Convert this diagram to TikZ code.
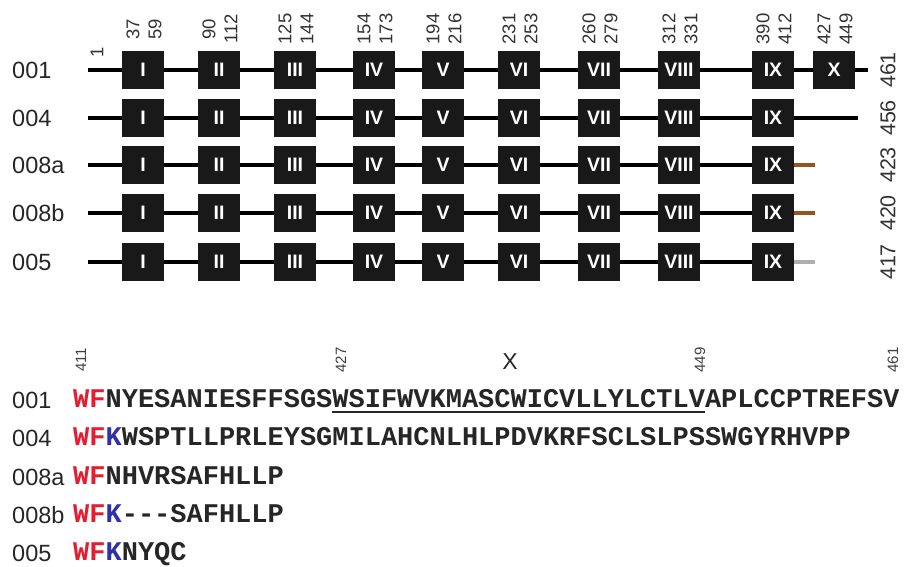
\documentclass[tikz,border=0pt]{standalone}
\usepackage{fontspec}
\setmainfont{Liberation Sans}
\setmonofont{Liberation Mono}
\usetikzlibrary{positioning}

\definecolor{seqred}{RGB}{228,30,48}
\definecolor{seqblue}{RGB}{48,48,168}
\definecolor{tailbrown}{RGB}{150,85,30}
\definecolor{tailgrey}{RGB}{175,175,175}

\begin{document}
\begin{tikzpicture}[
    x=1pt, y=-1pt,
    dombox/.style={fill=black!90, minimum width=42pt, minimum height=38pt, inner sep=0pt, text=white, font=\fontsize{19.5}{19.5}\selectfont\bfseries},
    backbone/.style={line width=3.5pt},
    tailline/.style={line width=3.5pt},
    rowlab/.style={anchor=west, inner sep=0pt, text=black!85, font=\fontsize{23.5}{23.5}\selectfont},
    bordernum/.style={rotate=90, inner sep=0pt, text=black!80, font=\fontsize{18.5}{18.5}\selectfont},
    lenlab/.style={rotate=90, inner sep=0pt, text=black!80, font=\fontsize{21.5}{21.5}\selectfont},
    seqnum/.style={rotate=90, inner sep=0pt, text=black!75, font=\fontsize{15}{15}\selectfont},
    seqtext/.style={anchor=base west, inner sep=0pt, text=black!85, font=\fontsize{27}{27}\selectfont\ttfamily\bfseries}
]
\useasboundingbox (0,0) rectangle (905,567);

% gene models
\foreach \r/\y/\e/\n in {001/70/868/461, 004/118/858/456, 008a/165/795/423, 008b/213/795/420, 005/262/795/417} {
  \node[rowlab] (lab\r) at (12,\y) {\r};
  \coordinate (st\r) at (88,\y);
  \coordinate (en\r) at (\e,\y);
  \draw[backbone] (st\r) -- (en\r);
  \foreach \d/\x in {I/143, II/219, III/295, IV/374, V/443, VI/519, VII/599, VIII/679, IX/773}
    \node[dombox] (\r-\d) at (\x,\y) {\d};
  \node[lenlab] (len\r) at (888,\y) {\n};
}
\node[dombox] (001-X) at (834,70) {X};

% truncated ends
\coordinate (t008a) at (815,165);
\coordinate (t008b) at (815,213);
\coordinate (t005) at (815,262);
\draw[tailline, tailbrown] (008a-IX) -- (t008a);
\draw[tailline, tailbrown] (008b-IX) -- (t008b);
\draw[tailline, tailgrey] (005-IX) -- (t005);

% domain borders
\node[bordernum] (p1) at (97,52) {1};
\foreach \x/\a/\b in {143/37/59, 219/90/112, 295/125/144, 374/154/173, 443/194/216, 519/231/253, 599/260/279, 679/312/331, 773/390/412, 834/427/449} {
  \node[bordernum] (p\a) at (\x-10,29) {\a};
  \node[bordernum] (p\b) at (\x+12,29) {\b};
}

% C-terminal sequences
\node[seqnum] (q411) at (81,360) {411};
\node[seqnum] (q427) at (341,360) {427};
\node[seqnum] (q449) at (700,360) {449};
\node[seqnum] (q461) at (893,360) {461};
\node[font=\fontsize{23}{23}\selectfont, text=black!85] (dx) at (510,362) {X};

\node[rowlab] (l001) at (12,400) {001};
\node[seqtext] (s001) at (73,407.5) {\textcolor{seqred}{WF}NYESANIESFFSGSWSIFWVKMASCWICVLLYLCTLVAPLCCPTREFSV};
\node[rowlab] (l004) at (12,438) {004};
\node[seqtext] (s004) at (73,445.5) {\textcolor{seqred}{WF}\textcolor{seqblue}{K}WSPTLLPRLEYSGMILAHCNLHLPDVKRFSCLSLPSSWGYRHVPP};
\node[rowlab] (l008a) at (12,477) {008a};
\node[seqtext] (s008a) at (73,484.5) {\textcolor{seqred}{WF}NHVRSAFHLLP};
\node[rowlab] (l008b) at (12,515) {008b};
\node[seqtext] (s008b) at (73,522.5) {\textcolor{seqred}{WF}\textcolor{seqblue}{K}---SAFHLLP};
\node[rowlab] (l005) at (12,553) {005};
\node[seqtext] (s005) at (73,560.5) {\textcolor{seqred}{WF}\textcolor{seqblue}{K}NYQC};

% transmembrane stretch
\coordinate (ua) at ([xshift=259pt, yshift=-4.5pt]s001.base west);
\coordinate (ub) at ([xshift=632pt, yshift=-4.5pt]s001.base west);
\draw[line width=2pt, black!85] (ua) -- (ub);
\end{tikzpicture}
\end{document}
